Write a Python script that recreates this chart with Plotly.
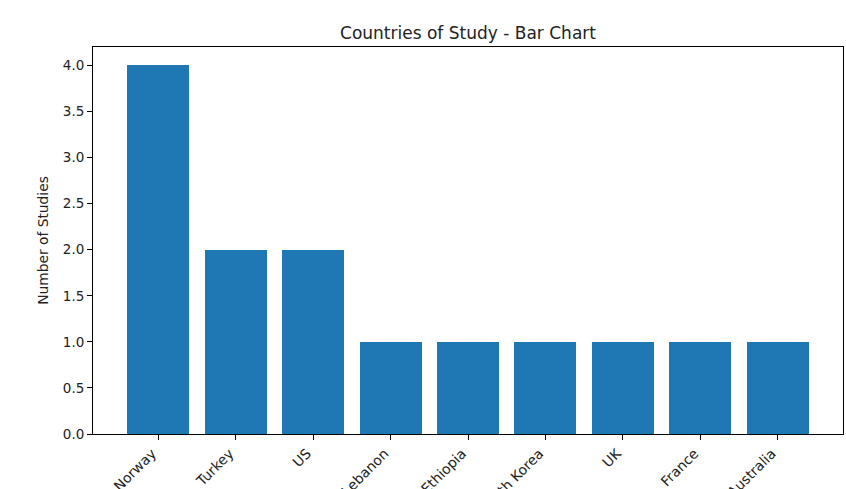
import plotly.graph_objects as go

countries = ["Norway", "Turkey", "US", "Lebanon", "Ethiopia", "South Korea", "UK", "France", "Australia"]
study_counts = [4, 2, 2, 1, 1, 1, 1, 1, 1]

FONT = "DejaVu Sans"

fig = go.Figure(
    go.Bar(
        x=list(range(len(countries))),
        y=study_counts,
        width=0.8,
        marker=dict(color="#1f77b4", line=dict(width=0)),
    )
)

axis_common = dict(
    showline=True,
    linecolor="black",
    linewidth=1,
    mirror=True,
    ticks="outside",
    ticklen=5,
    tickwidth=1,
    tickcolor="black",
    showgrid=False,
    zeroline=False,
    automargin=False,
)

fig.update_xaxes(
    **axis_common,
    range=[-0.84, len(countries) - 1 + 0.84],
    tickmode="array",
    tickvals=list(range(len(countries))),
    ticktext=countries,
    tickangle=-45,
    ticklabelshift=-6,
    tickfont=dict(family=FONT, size=13.9, color="#222"),
)
fig.update_yaxes(
    **axis_common,
    range=[0, 4.2],
    dtick=0.5,
    tickformat=".1f",
    tickfont=dict(family=FONT, size=13.5, color="#222"),
    title=dict(text="Number of Studies", font=dict(family=FONT, size=13.8, color="#222"), standoff=10),
)

fig.update_layout(
    width=846,
    height=489,
    margin=dict(l=93, r=3, t=47, b=55),
    plot_bgcolor="white",
    paper_bgcolor="white",
    showlegend=False,
    title=dict(
        text="Countries of Study - Bar Chart",
        font=dict(family=FONT, size=17, color="#222"),
        x=0.5,
        xanchor="center",
        xref="paper",
        y=1 - 33 / 489,
        yanchor="middle",
    ),
    bargap=0,
)

fig.write_html("out.html")
